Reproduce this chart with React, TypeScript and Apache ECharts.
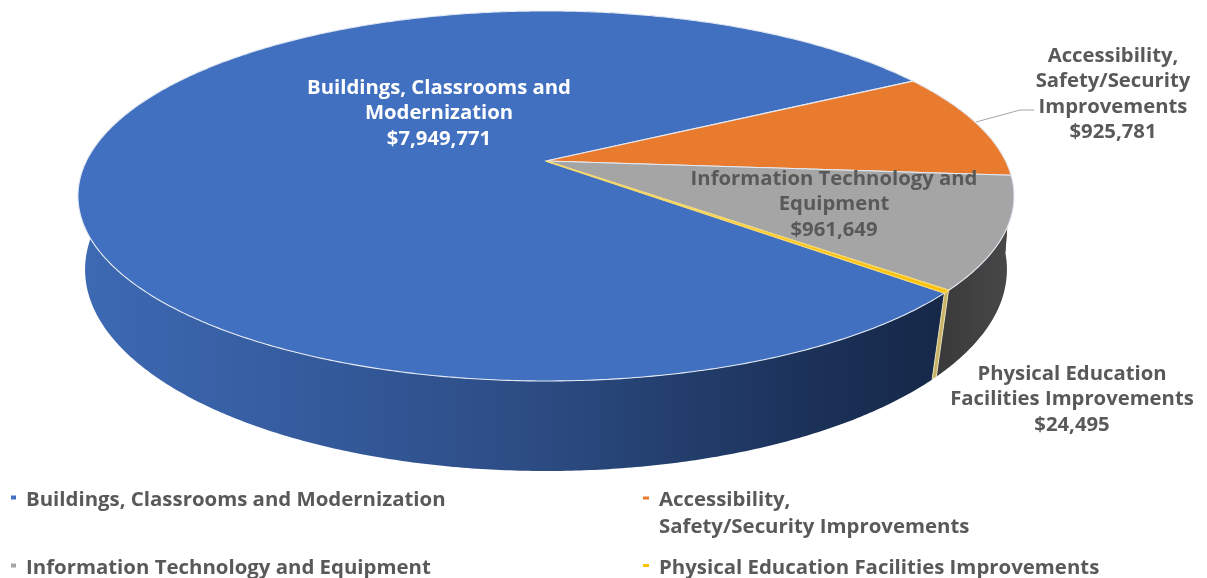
import React, { useEffect, useRef } from "react";
import * as echarts from "echarts";

const categories = [
  "Buildings, Classrooms and Modernization",
  "Accessibility, Safety/Security Improvements",
  "Information Technology and Equipment",
  "Physical Education Facilities Improvements",
];
const amounts = [7949771, 925781, 961649, 24495];
const faceColors = ["#4070bf", "#e97b2e", "#a5a5a5", "#ffc000"];
const sliceLabels = [
  "Buildings, Classrooms and\nModernization",
  "Accessibility,\nSafety/Security\nImprovements",
  "Information Technology and\nEquipment",
  "Physical Education\nFacilities Improvements",
];
const labelCentres = [
  [439, 111],
  [1113, 92],
  [834, 202],
  [1072, 397],
];
const labelColors = ["#ffffff", "#595959", "#595959", "#595959"];
const legendCorners = [
  [11, 484],
  [643, 484],
  [11, 552],
  [643, 552],
];

const FONT = '"Open Sans", sans-serif';
const START_DEG = 40.5;
// projective view of the pie disc: top rim and bottom rim
const CX = 546;
const TOP = { cy: 161, k: 0.189, a: 459.6, b: 178.4 };
const BOT = { cy: 237.3, k: 0.16, a: 455, b: 196.3 };

const total = amounts.reduce((a, b) => a + b, 0);
const rim = (deg: number, bottom: boolean) => {
  const p = bottom ? BOT : TOP;
  const t = (deg * Math.PI) / 180;
  const w = 1 - p.k * Math.sin(t);
  return [CX + (p.a * Math.cos(t)) / w, p.cy + (p.b * Math.sin(t)) / w];
};
const arc = (from: number, to: number, bottom: boolean) => {
  const n = Math.max(2, Math.ceil(to - from) * 2);
  const out: number[][] = [];
  for (let i = 0; i <= n; i++) out.push(rim(from + ((to - from) * i) / n, bottom));
  return out;
};
const wallFill = (i: number) => {
  if (i === 0)
    return new echarts.graphic.LinearGradient(
      78, 0, 945, 0,
      [
        { offset: 0, color: "#3d6ab4" },
        { offset: 0.3, color: "#34599a" },
        { offset: 0.55, color: "#2b4a80" },
        { offset: 0.85, color: "#1b3158" },
        { offset: 1, color: "#162848" },
      ],
      true
    );
  if (i === 1) return "#8f4a1c";
  if (i === 2)
    return new echarts.graphic.LinearGradient(
      940, 0, 1012, 0,
      [
        { offset: 0, color: "#3a3a3a" },
        { offset: 1, color: "#484848" },
      ],
      true
    );
  return "#c9b264";
};

const makeSeries = (i: number) => {
  const before = amounts.slice(0, i).reduce((a, b) => a + b, 0);
  return {
    type: "custom",
    name: categories[i],
    coordinateSystem: "none",
    silent: true,
    itemStyle: { color: faceColors[i] },
    data: [[amounts[i]]],
    renderItem: (_p: any, api: any) => {
      const from = START_DEG + (before / total) * 360;
      const to = from + (api.value(0) / total) * 360;
      const top = arc(from, to, false);
      const bot = arc(from, to, true).reverse();
      return {
        type: "group",
        children: [
          {
            type: "polygon",
            z2: i === 3 ? 2 : 1,
            shape: { points: [...top, ...bot] },
            style: i === 3
              ? { fill: wallFill(i), stroke: "#eee8c8", lineWidth: 0.8 }
              : { fill: wallFill(i) },
          },
          {
            type: "polygon",
            z2: i === 3 ? 11 : 10,
            shape: { points: [[CX, TOP.cy], ...top] },
            style: {
              fill: faceColors[i],
              stroke: i === 3 ? "#f6d768" : "#e4eaf4",
              lineWidth: i === 3 ? 1.4 : 1.1,
            },
          },
          {
            type: "text",
            z2: 20,
            x: labelCentres[i][0],
            y: labelCentres[i][1],
            style: {
              text: `${sliceLabels[i]}\n$${amounts[i].toLocaleString("en-US")}`,
              fill: labelColors[i],
              align: "center",
              verticalAlign: "middle",
              lineHeight: 25.5,
              fontFamily: FONT,
              fontSize: 20.3,
              fontWeight: 700,
            },
          },
        ],
      };
    },
  };
};

const legendIcons = [
  { width: 5, height: 4, icon: "rect" },
  { width: 6, height: 29, icon: "path://M0 0h6v3h-6z M0 29h0.01z" },
  { width: 5, height: 4, icon: "rect" },
  { width: 6, height: 3, icon: "rect" },
];
const legendText = [
  categories[0],
  "Accessibility,\nSafety/Security Improvements",
  categories[2],
  categories[3],
];

export default function App() {
  const ref = useRef<HTMLDivElement>(null);
  useEffect(() => {
    const chart = echarts.init(ref.current!, null, { renderer: "svg" });
    chart.setOption({
      animation: false,
      backgroundColor: "#ffffff",
      legend: categories.map((name, i) => ({
        left: legendCorners[i][0],
        top: legendCorners[i][1],
        padding: 0,
        selectedMode: false,
        data: [name],
        icon: legendIcons[i].icon,
        itemWidth: legendIcons[i].width,
        itemHeight: legendIcons[i].height,
        formatter: () => legendText[i],
        textStyle: {
          color: "#595959",
          fontFamily: FONT,
          fontSize: 20.4,
          fontWeight: 700,
          lineHeight: 27,
          padding: [0, 0, 0, 5],
        },
      })),
      graphic: [
        {
          type: "polyline",
          shape: { points: [[976, 122], [1020, 110], [1034, 110]] },
          style: { stroke: "#a6a6a6", lineWidth: 1, fill: "none" },
          silent: true,
        },
      ],
      series: categories.map((_, i) => makeSeries(i)),
    });
    return () => chart.dispose();
  }, []);
  return (
    <div
      ref={ref}
      style={{
        position: "absolute",
        left: 0,
        top: 0,
        width: 1207,
        height: 578,
        filter: "blur(0.5px)",
      }}
    />
  );
}
